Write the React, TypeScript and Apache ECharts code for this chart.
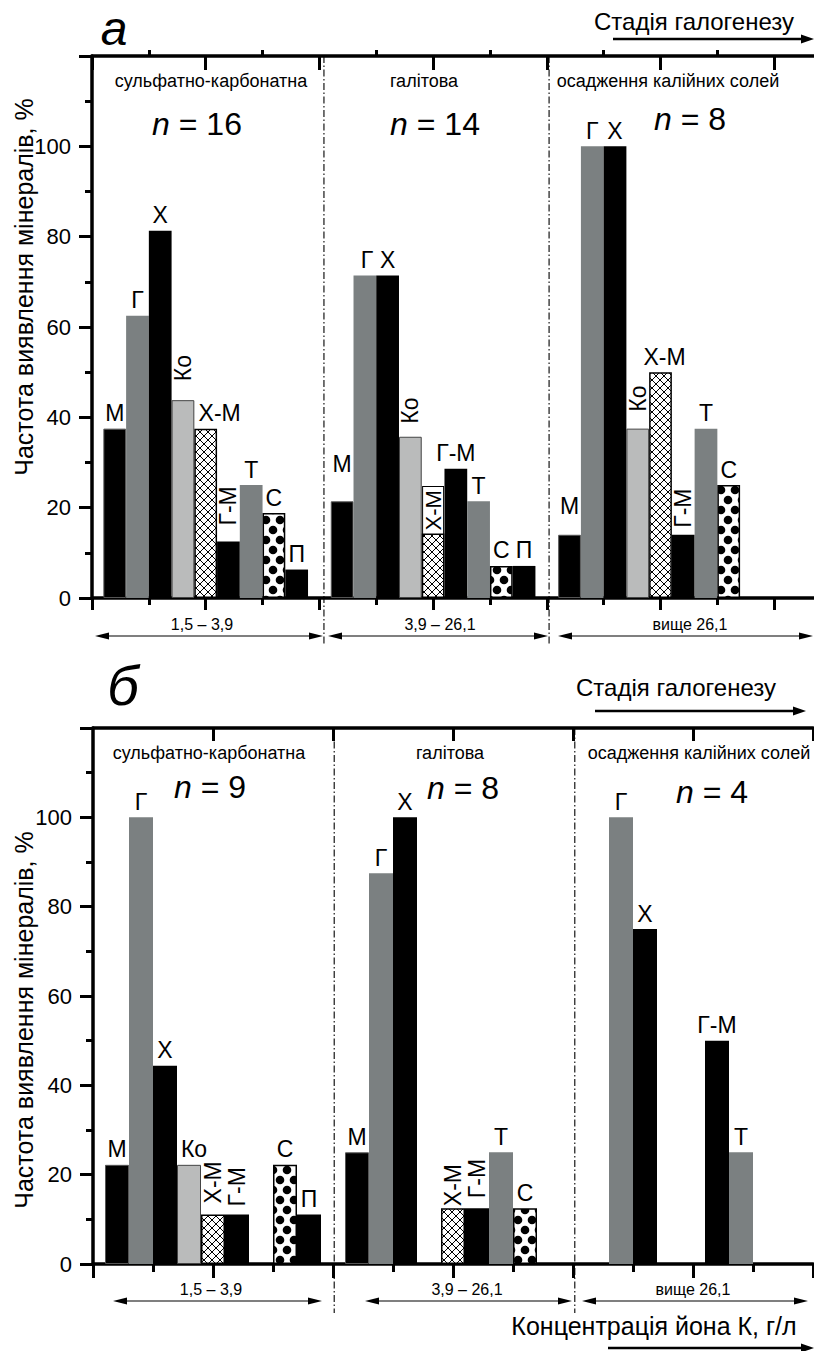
import React, { useEffect, useRef } from 'react';
import * as echarts from 'echarts';

// ---------------- data ----------------
const minerals = ['М', 'Г', 'Х', 'Ко', 'Х-М', 'Г-М', 'Т', 'С', 'П'];
const stageNames = ['сульфатно-карбонатна', 'галітова', 'осадження калійних солей'];
const concRanges = ['1,5 – 3,9', '3,9 – 26,1', 'вище 26,1'];

// panel а (values in mineral order)
const aSulfateCarbonate = [37.5, 62.5, 81.3, 43.8, 37.5, 12.5, 25, 18.8, 6.3];
const aHalite = [21.4, 71.4, 71.4, 35.7, 14.3, 28.6, 21.4, 7.1, 7.1];
const aPotash = [14, 100, 100, 37.5, 50, 14, 37.5, 25, 0];
const aCounts = [16, 14, 8];

// panel б
const bSulfateCarbonate = [22.2, 100, 44.4, 22.2, 11.1, 11.1, 0, 22.2, 11.1];
const bHalite = [25, 87.5, 100, 0, 12.5, 12.5, 25, 12.5, 0];
const bPotash = [0, 100, 75, 0, 0, 50, 25, 0, 0];
const bCounts = [9, 8, 4];

const majorTicks = [0, 2, 4, 6, 8, 10, 12];
const minorTicks = [1, 3, 5, 7, 9, 11];
const dividersA = [4.08, 8.04];
const dividersB = [4.02, 8.03];

// ---------------- styles ----------------
const FONT = "'Liberation Sans', Arial, Helvetica, sans-serif";
const svgUrl = (s: string) => 'data:image/svg+xml;charset=utf-8,' + encodeURIComponent(s);
const crossPattern = {
  image: svgUrl('<svg xmlns="http://www.w3.org/2000/svg" width="8" height="8"><rect width="8" height="8" fill="#fff"/><path d="M0 0L8 8M8 0L0 8" stroke="#000" stroke-width="1"/></svg>'),
  repeat: 'repeat', imageWidth: 8, imageHeight: 8,
};
const dotPattern = {
  image: svgUrl('<svg xmlns="http://www.w3.org/2000/svg" width="14" height="20"><rect width="14" height="20" fill="#fff"/><circle cx="0" cy="0" r="4.3"/><circle cx="14" cy="0" r="4.3"/><circle cx="0" cy="20" r="4.3"/><circle cx="14" cy="20" r="4.3"/><circle cx="7" cy="10" r="4.3"/></svg>'),
  repeat: 'repeat', imageWidth: 14, imageHeight: 20,
};
const GRAY = '#7b8081';
const mineralStyle: Record<string, any> = {
  'М': { color: '#000', borderColor: '#555', borderWidth: 1 },
  'Г': { color: GRAY },
  'Х': { color: '#000' },
  'Ко': { color: '#babbbb', borderColor: '#444', borderWidth: 1 },
  'Х-М': { color: crossPattern, borderColor: '#000', borderWidth: 1.5 },
  'Г-М': { color: '#000' },
  'Т': { color: GRAY },
  'С': { color: dotPattern, borderColor: '#000', borderWidth: 1.5 },
  'П': { color: '#000' },
};

type Tweak = { rot?: boolean; gap?: number; dx?: number; dy?: number; box?: boolean };
const labelTweaks: Record<string, Tweak> = {
  'a0Ко': { rot: true, gap: 16, dx: 3 },
  'a0Х-М': { dx: 14 },
  'a0Г-М': { rot: true, gap: 14, dx: 2 },
  'a1М': { dy: 22 },
  'a1Г': { dx: 2 },
  'a1Ко': { rot: true, gap: 10, dx: 3 },
  'a1Х-М': { rot: true, box: true },
  'a2М': { dy: 13 },
  'a2Ко': { rot: true, gap: 15, dx: 2 },
  'a2Х-М': { dx: 4 },
  'a2Г-М': { rot: true, gap: 5, dx: 2 },
  'b0Ко': { dx: 5 },
  'b0Х-М': { rot: true, gap: 10, dx: 1 },
  'b0Г-М': { rot: true, gap: 10, dx: -2 },
  'b1Х-М': { rot: true, gap: 2 },
  'b1Г-М': { rot: true, gap: 11, dx: -1 },
};

function labelFor(panel: string, g: number, m: string) {
  const t = labelTweaks[panel + g + m] || {};
  const l: any = {
    show: true, formatter: m, position: 'top', color: '#000', fontSize: 23, fontFamily: FONT,
    distance: t.gap ?? 4, offset: [t.dx || 0, -(t.dy || 0)],
  };
  if (t.rot) Object.assign(l, { rotate: 90, align: 'left', verticalAlign: 'middle' });
  if (t.box) Object.assign(l, { backgroundColor: '#fff', borderColor: '#000', borderWidth: 1, padding: [0, 3], lineHeight: 20, distance: 0, fontSize: 22 });
  return l;
}

function buildSeries(panel: string, groups: number[][], xAxisIndex: number, yAxisIndex: number, barWidth: number) {
  return minerals.map((m, i) => ({
    type: 'bar', name: m + panel, xAxisIndex, yAxisIndex, barWidth, barGap: '-100%',
    itemStyle: mineralStyle[m],
    emphasis: { disabled: true },
    data: groups
      .map((vals, g) => ({ g, v: vals[i] }))
      .filter((d) => d.v > 0)
      .map((d) => ({ value: [d.g * 4 + 0.4 * (i + 1), d.v], label: labelFor(panel, d.g, m) })),
  }));
}

const AX = { color: '#000', width: 3.5 };
function xAxisDef(gridIndex: number, max: number, position: string, showLine: boolean, ticks: number[], inside: boolean, length: number, interval: number) {
  return {
    gridIndex, type: 'value', min: 0, max, interval, position,
    axisLine: { show: showLine, onZero: false, lineStyle: AX },
    axisTick: { show: true, inside, length, customValues: ticks, lineStyle: { color: '#000', width: 3 } },
    axisLabel: { show: false }, splitLine: { show: false },
  };
}
function yAxisDef(gridIndex: number) {
  return {
    gridIndex, type: 'value', min: 0, max: 120, interval: 20,
    axisLine: { show: true, onZero: false, lineStyle: AX },
    axisTick: { show: true, length: 13, lineStyle: { color: '#000', width: 3 } },
    minorTick: { show: true, splitNumber: 2, length: 7, lineStyle: { color: '#000', width: 3 } },
    splitLine: { show: false }, minorSplitLine: { show: false },
    axisLabel: { margin: 21, fontSize: 22, color: '#000', fontFamily: FONT, showMaxLabel: false, formatter: (v: number) => (v === 120 ? '' : String(v)) },
  };
}

// ---------------- graphic helpers ----------------
const txt = (x: number, y: number, text: string, fontSize: number, extra: any = {}, elExtra: any = {}) => ({
  type: 'text', x, y, silent: true, ...elExtra,
  style: { text, fontSize, fontFamily: FONT, fill: '#000', align: 'center', textAlign: 'center', verticalAlign: 'middle', textVerticalAlign: 'middle', ...extra },
});
const ln = (x1: number, y1: number, x2: number, y2: number, w: number, dash?: number[]) => ({
  type: 'line', silent: true, shape: { x1, y1, x2, y2 }, style: { stroke: '#000', lineWidth: w, lineDash: dash || null },
});
const headR = (x: number, y: number, l: number, h: number) => ({ type: 'polygon', silent: true, shape: { points: [[x, y], [x - l, y - h], [x - l, y + h]] }, style: { fill: '#000' } });
const headL = (x: number, y: number, l: number, h: number) => ({ type: 'polygon', silent: true, shape: { points: [[x, y], [x + l, y - h], [x + l, y + h]] }, style: { fill: '#000' } });
const dblArrow = (x1: number, x2: number, y: number) => [ln(x1 + 4, y, x2 - 4, y, 1.2), headL(x1, y, 14, 3.5), headR(x2, y, 14, 3.5)];
const nText = (x: number, y: number, n: number) => txt(x, y, `{i|n} = ${n}`, 32, { rich: { i: { fontStyle: 'italic', fontSize: 32, fontFamily: FONT } } });

export default function App() {
  const ref = useRef<HTMLDivElement>(null);
  useEffect(() => {
    document.body.style.margin = '0';
    const chart = echarts.init(ref.current!, null, { renderer: 'svg' });
    const gA = { left: 92, top: 56, width: 722, height: 542 };
    const gB = { left: 93, top: 728, width: 720, height: 536 };
    const maxA = 12.7;
    const maxB = 12;
    const option: any = {
      animation: false,
      backgroundColor: '#fff',
      grid: [
        { ...gA, containLabel: false, outerBoundsMode: 'none' },
        { ...gB, containLabel: false, outerBoundsMode: 'none' },
      ],
      xAxis: [
        xAxisDef(0, maxA, 'bottom', true, majorTicks, false, 12, 2),
        xAxisDef(0, maxA, 'bottom', false, minorTicks, false, 7, 1),
        xAxisDef(0, maxA, 'top', true, majorTicks, true, 14, 2),
        xAxisDef(0, maxA, 'top', false, minorTicks, false, 6, 1),
        xAxisDef(1, maxB, 'bottom', true, majorTicks, false, 14, 2),
        xAxisDef(1, maxB, 'bottom', false, minorTicks, false, 8, 1),
        xAxisDef(1, maxB, 'top', true, majorTicks.slice(1), true, 13, 2),
      ],
      yAxis: [yAxisDef(0), yAxisDef(1)],
      series: [
        ...buildSeries('a', [aSulfateCarbonate, aHalite, aPotash], 0, 0, (0.4 * gA.width) / maxA),
        ...buildSeries('b', [bSulfateCarbonate, bHalite, bPotash], 4, 1, (0.4 * gB.width) / maxB),
      ],
    };
    chart.setOption(option);

    const dashDot = [7, 2.5, 1.5, 2.5];
    const graphics: any[] = [];
    dividersA.forEach((v) => {
      const x = chart.convertToPixel({ xAxisIndex: 0 }, v) as number;
      graphics.push(ln(x, 56, x, 645, 1.1, dashDot));
    });
    dividersB.forEach((v) => {
      const x = chart.convertToPixel({ xAxisIndex: 4 }, v) as number;
      graphics.push(ln(x, 728, x, 1313, 1.1, dashDot));
    });

    // panel а annotations
    graphics.push(txt(114, 28, 'а', 48, { fontStyle: 'italic' }));
    graphics.push(txt(24, 287, 'Частота виявлення мінералів, %', 25, {}, { rotation: Math.PI / 2 }));
    graphics.push(txt(694, 21, 'Стадія галогенезу', 24));
    graphics.push(ln(613, 39, 803, 39, 2.5), headR(814, 39, 13, 4.5));
    [211, 424, 668].forEach((x, i) => graphics.push(txt(x, 80.5, stageNames[i], 18)));
    [[197, 124], [435, 124], [690, 119]].forEach(([x, y], i) => graphics.push(nText(x, y, aCounts[i])));
    [[95, 323, 202], [328, 548, 440], [558, 813, 690]].forEach(([x1, x2, xc], i) => {
      graphics.push(...dblArrow(x1, x2, 636));
      graphics.push(txt(xc, 624, concRanges[i], 16));
    });

    // panel б annotations
    graphics.push(txt(123, 685, 'б', 56, { fontStyle: 'italic' }));
    graphics.push(txt(24, 1020, 'Частота виявлення мінералів, %', 25, {}, { rotation: Math.PI / 2 }));
    graphics.push(txt(676, 687, 'Стадія галогенезу', 24));
    graphics.push(ln(595, 711, 795, 711, 2.5), headR(806, 711, 13, 4.5));
    [209, 450, 699].forEach((x, i) => graphics.push(txt(x, 752.5, stageNames[i], 18)));
    [[210, 787], [463, 788], [712, 792]].forEach(([x, y], i) => graphics.push(nText(x, y, bCounts[i])));
    [[113, 322, 211], [365, 572, 467], [582, 808, 693]].forEach(([x1, x2, xc], i) => {
      graphics.push(...dblArrow(x1, x2, 1301));
      graphics.push(txt(xc, 1289, concRanges[i], 16));
    });
    graphics.push(txt(654, 1326, 'Концентрація йона К, г/л', 25));
    graphics.push(ln(608, 1348, 803, 1348, 2.5), headR(814, 1348, 13, 4.5));

    chart.setOption({ graphic: graphics });
    return () => chart.dispose();
  }, []);
  return <div ref={ref} style={{ position: 'absolute', left: 0, top: 0, width: 814, height: 1351 }} />;
}
